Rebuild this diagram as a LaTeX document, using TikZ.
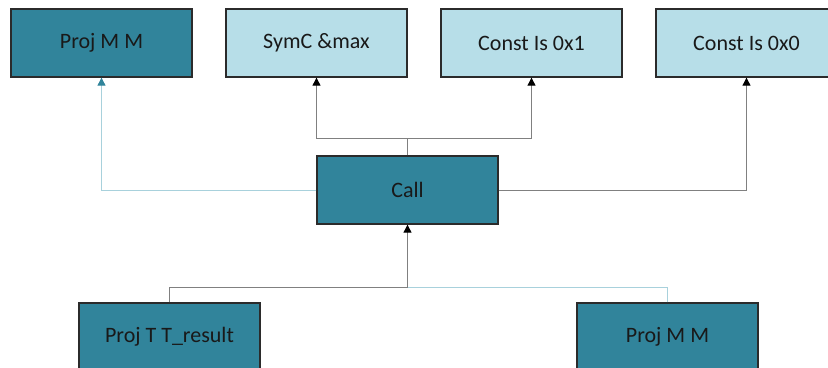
\documentclass[tikz,border=0pt]{standalone}
\usepackage{fontspec}
\setmainfont{Carlito}
\usetikzlibrary{arrows.meta}
\definecolor{darkfill}{HTML}{31849B}
\definecolor{lightfill}{HTML}{B7DEE8}
\definecolor{boxedge}{HTML}{2B2B2B}
\definecolor{greyline}{HTML}{808080}
\definecolor{blueline}{HTML}{A8D1DC}
\tikzset{
  basebox/.style={draw=boxedge, line width=1.3bp, minimum width=181bp, minimum height=68bp,
    inner sep=0pt, font=\fontsize{22bp}{24bp}\selectfont, text=black!90},
  darkbox/.style={basebox, fill=darkfill},
  lightbox/.style={basebox, fill=lightfill},
  greyconn/.style={draw=greyline, line width=0.9bp},
  blueconn/.style={draw=blueline, line width=0.9bp},
  tip/.style={-{Triangle[width=8bp,length=8bp,color=black]}},
  bluetip/.style={-{Triangle[width=8bp,length=8bp,color=darkfill]}}
}
\begin{document}
\begin{tikzpicture}[x=1bp,y=-1bp]
\useasboundingbox (0,0) rectangle (828,367);
\clip (0,0) rectangle (828,367);
% top row
\node[darkbox]  (projmm)  at (101.5,43) {Proj M M};
\node[lightbox] (symc)    at (316.5,43) {SymC \&max};
\node[lightbox] (const1)  at (531.5,43) {Const Is 0x1};
\node[lightbox] (const0)  at (746.5,43) {Const Is 0x0};
% middle
\node[darkbox]  (call)    at (407.5,190) {Call};
% bottom row
\node[darkbox]  (projtt)  at (169.5,337) {Proj T T\_result};
\node[darkbox]  (projmm2) at (667.5,337) {Proj M M};
% junctions
\coordinate (jtop) at (407.5,138);
\coordinate (jbot) at (407.5,287);
% connectors out of Call
\draw[blueconn, bluetip] (call.west) -| (projmm.south);
\draw[greyconn] (call.north) -- (jtop);
\draw[greyconn, tip] (jtop) -| (symc.south);
\draw[greyconn, tip] (jtop) -| (const1.south);
\draw[greyconn, tip] (call.east) -| (const0.south);
% connectors into Call
\draw[blueconn] (projmm2.north) |- (jbot);
\draw[greyconn, tip] (projtt.north) |- (jbot) -- (call.south);
\end{tikzpicture}
\end{document}
